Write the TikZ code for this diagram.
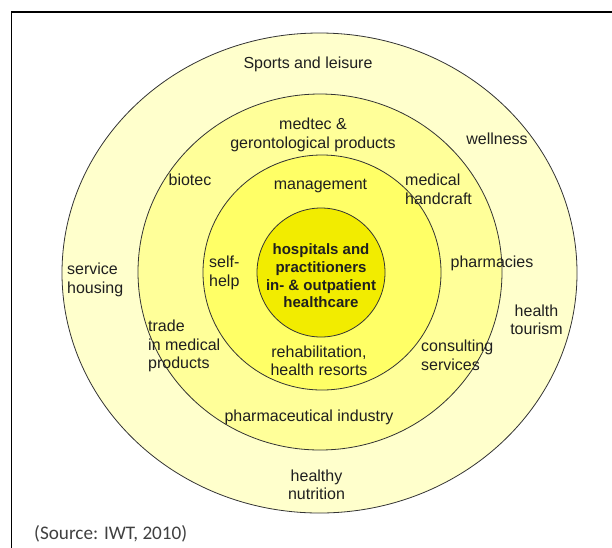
\documentclass[tikz,border=0pt]{standalone}
\usepackage{fontspec}
\setmainfont{Liberation Sans}
\newfontfamily\sourcefont{Carlito}
\usetikzlibrary{shapes.geometric}

\definecolor{ringa}{RGB}{255,255,204}
\definecolor{ringb}{RGB}{255,255,153}
\definecolor{ringc}{RGB}{255,255,102}
\definecolor{core}{RGB}{242,236,0}

\begin{document}
\begin{tikzpicture}[x=1pt,y=-1pt]
    \tikzstyle{ring} = [ellipse, draw=black!80, line width=0.8pt, inner sep=0pt]
    \tikzstyle{lbl} = [inner sep=0pt, text=black!88, font=\fontsize{16}{18.5}\selectfont]
    \tikzstyle{lbll} = [lbl, align=left, anchor=west]
    \tikzstyle{lblc} = [lbl, align=center]
    \useasboundingbox (0,0) rectangle (612,547);
    \clip (0,0) rectangle (612,547);
    \draw [line width=1.4pt] (11.7,12) rectangle (650,600);
    % Rings
    \node (outer) [ring, fill=ringa, minimum width=515pt, minimum height=480pt] at (319.5,273) {};
    \node (middle) [ring, fill=ringb, minimum width=364pt, minimum height=356pt] at (320,272) {};
    \node (inner) [ring, fill=ringc, minimum width=238pt, minimum height=235pt] at (322,272.5) {};
    \node (core) [ring, fill=core, minimum width=128pt, minimum height=129pt] at (321,272.5) {};
    % Labels
    \node (hosp) [lblc, font=\bfseries\fontsize{15}{17.6}\selectfont] at (321,276) {hospitals and\\practitioners\\in- \& outpatient\\healthcare};
    \node (sports) [lblc] at (308,64.5) {Sports and leisure};
    \node (medtec) [lblc] at (313,135) {medtec \&\\gerontological products};
    \node (wellness) [lblc] at (497,139) {wellness};
    \node (biotec) [lblc] at (190,180) {biotec};
    \node (mgmt) [lblc] at (320.5,185.5) {management};
    \node (handcraft) [lbll] at (405,189.5) {medical\\handcraft};
    \node (selfhelp) [lbll] at (209,273) {self-\\help};
    \node (pharmacies) [lblc] at (492,263) {pharmacies};
    \node (housing) [lbll] at (67,280) {service\\housing};
    \node (tourism) [lblc] at (536.5,320) {health\\tourism};
    \node (trade) [lbll] at (148,346) {trade\\in medical\\products};
    \node (rehab) [lblc] at (319,361) {rehabilitation,\\health resorts};
    \node (consulting) [lbll] at (421,355.5) {consulting\\services};
    \node (pharmaind) [lblc] at (309,417) {pharmaceutical industry};
    \node (nutrition) [lblc] at (316.5,485) {healthy\\nutrition};
    \node (source) [lbll, font=\sourcefont\fontsize{19.2}{21}\selectfont, text=black!75] at (34,533.5) {(Source: IWT, 2010)};
\end{tikzpicture}
\end{document}
